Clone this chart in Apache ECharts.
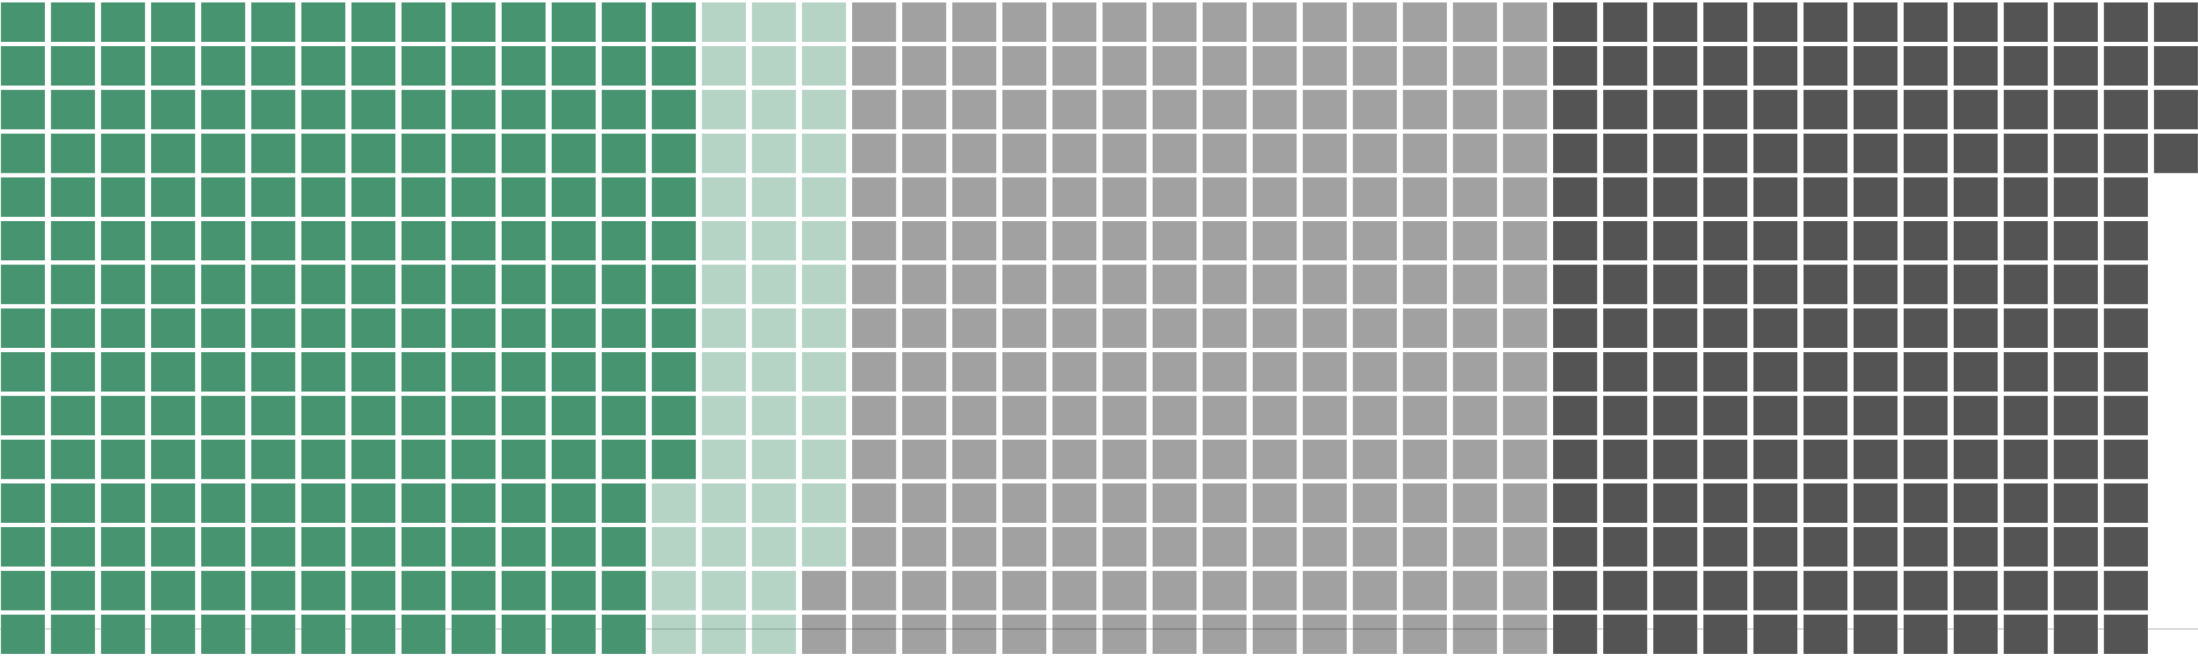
<!DOCTYPE html>
<html>
<head>
<meta charset="utf-8">
<script src="https://cdn.jsdelivr.net/npm/echarts@6/dist/echarts.min.js"></script>
<style>
html,body{margin:0;padding:0;background:#fff;}
#chart{width:2198px;height:656px;}
</style>
</head>
<body>
<div id="chart"></div>
<script>
// Waffle groups (cells per group), filled column by column, top to bottom
const categories = ['Group A', 'Group B', 'Group C', 'Group D'];
const counts = [206, 47, 212, 184];
const colors = ['#479470', 'rgba(71,148,112,0.4)', 'rgba(0,0,0,0.37)', '#545454'];
const ROWS = 15;
const COLS = 44;

// build cell table: [col, row, groupIndex]
const cells = [];
let k = 0;
counts.forEach(function (n, g) {
  for (let i = 0; i < n; i++) {
    cells.push([Math.floor(k / ROWS), k % ROWS, g]);
    k++;
  }
});

const chart = echarts.init(document.getElementById('chart'));
chart.setOption({
  animation: false,
  grid: { left: 0, right: 0, top: 0, bottom: 27 },
  xAxis: {
    type: 'value', min: -0.4574, max: 43.44,
    axisLine: { show: true, onZero: false, lineStyle: { color: '#dcdcdc', width: 2 } },
    axisTick: { show: false }, axisLabel: { show: false }, splitLine: { show: false }
  },
  yAxis: {
    type: 'value', inverse: true, min: -0.5066, max: 13.88,
    axisLine: { show: false }, axisTick: { show: false }, axisLabel: { show: false }, splitLine: { show: false }
  },
  series: [{
    type: 'custom',
    clip: false,
    data: cells,
    encode: { x: 0, y: 1 },
    renderItem: function (params, api) {
      const c = api.coord([api.value(0), api.value(1)]);
      const s = api.size([1, 1]);
      const w = s[0] - 5.8, h = s[1] - 4;
      const g = api.value(2);
      return {
        type: 'rect',
        shape: { x: c[0] - w / 2, y: c[1] - h / 2, width: w, height: h },
        style: { fill: colors[g], stroke: 'rgba(255,255,255,0.35)', lineWidth: 1 }
      };
    }
  }]
});
</script>
</body>
</html>
